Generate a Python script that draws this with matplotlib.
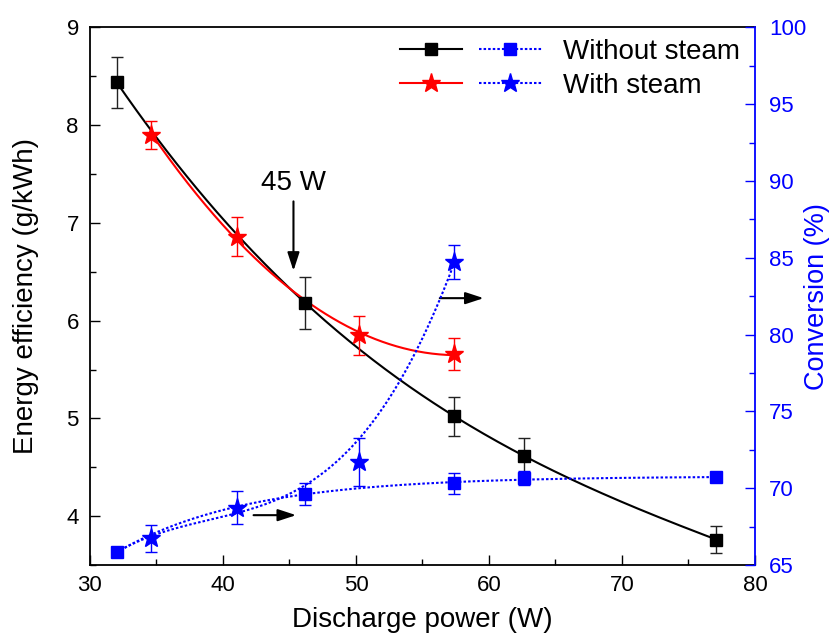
import numpy as np
import matplotlib
matplotlib.use('Agg')
import matplotlib.pyplot as plt
from matplotlib.lines import Line2D
from matplotlib.legend_handler import HandlerTuple
from matplotlib.ticker import MultipleLocator

plt.rcParams['font.family'] = ['Liberation Sans', 'DejaVu Sans']

# ---- data ----
power_no_steam = [32.0, 46.2, 57.4, 62.6, 77.1]
eff_no_steam = [8.44, 6.18, 5.02, 4.62, 3.76]
eff_no_steam_err = [0.26, 0.27, 0.20, 0.18, 0.14]
conv_no_steam = [65.83, 69.62, 70.32, 70.64, 70.71]
conv_no_steam_err = [0.0, 0.70, 0.67, 0.45, 0.0]

power_steam = [34.6, 41.05, 50.2, 57.4]
eff_steam = [7.90, 6.86, 5.85, 5.66]
eff_steam_err = [0.14, 0.20, 0.20, 0.16]
conv_steam = [66.74, 68.73, 71.72, 84.74]
conv_steam_err = [0.87, 1.08, 1.56, 1.10]

legend_labels = ['Without steam', 'With steam']
note_text = '45 W'
note_arrow = [(45.3, 7.22), (45.3, 6.51)]        # (start, end) in left-axis data
right_arrows = [((56.3, 6.23), (59.6, 6.23)),
                ((42.3, 4.01), (45.5, 4.01))]

# ---- fitted trend curves (computed from the data) ----
def fit_exp_sat(x, y):
    x = np.asarray(x, float); y = np.asarray(y, float)
    best = None
    for t in np.linspace(2, 40, 761):
        u = np.exp(-(x - x[0]) / t)
        M = np.column_stack([np.ones_like(u), u])
        coef, *_ = np.linalg.lstsq(M, y, rcond=None)
        r = np.sum((M @ coef - y) ** 2)
        if best is None or r < best[0]:
            best = (r, t, coef)
    _, t, coef = best
    x0 = x[0]
    return lambda xx: coef[0] + coef[1] * np.exp(-(xx - x0) / t)

black_fit = np.poly1d(np.polyfit(power_no_steam, eff_no_steam, 3))
red_fit = np.poly1d(np.polyfit(power_steam, eff_steam, 2))
blue_sq_fit = fit_exp_sat(power_no_steam, conv_no_steam)
st_x = [power_no_steam[0]] + power_steam
st_y = [conv_no_steam[0]] + conv_steam
st_sig = np.array([0.3] + conv_steam_err)
blue_st_fit = np.poly1d(np.polyfit(st_x, st_y, 3, w=1.0 / st_sig ** 3))

xb = np.linspace(power_no_steam[0], power_no_steam[-1], 300)
xr = np.linspace(power_steam[0], power_steam[-1], 300)
xs = np.linspace(power_no_steam[0], power_steam[-1], 300)

# ---- figure ----
fig = plt.figure(figsize=(8.37, 6.34), dpi=100)
ax = fig.add_axes([0.1075, 0.1088, 0.7945, 0.848])
ax2 = ax.twinx()

BLUE = '#0000ff'
RED = '#ff0000'
dot = (0, (1.2, 1.0))

ax.plot(xb, black_fit(xb), color='k', lw=1.5, zorder=2)
ax.plot(xr, red_fit(xr), color=RED, lw=1.5, zorder=2)
ax.errorbar(power_no_steam, eff_no_steam, yerr=eff_no_steam_err, fmt='s', color='k',
            ms=8.5, ecolor='#222222', elinewidth=1, capsize=4, capthick=1, zorder=3)
ax.errorbar(power_steam, eff_steam, yerr=eff_steam_err, fmt='*', color=RED,
            ms=14, ecolor=RED, elinewidth=1, capsize=4, capthick=1, zorder=3)

ax2.plot(xb, blue_sq_fit(xb), color=BLUE, lw=1.5, ls=dot, zorder=2)
ax2.plot(xs, blue_st_fit(xs), color=BLUE, lw=1.5, ls=dot, zorder=2)
ax2.errorbar(power_no_steam, conv_no_steam, yerr=conv_no_steam_err, fmt='s', color=BLUE,
             ms=8.5, ecolor=BLUE, elinewidth=1, capsize=4, capthick=1, zorder=3)
ax2.errorbar(power_steam, conv_steam, yerr=conv_steam_err, fmt='*', color=BLUE,
             ms=14, ecolor=BLUE, elinewidth=1, capsize=4, capthick=1, zorder=3)

# limits & ticks
ax.set_xlim(30, 80)
ax.set_ylim(3.5, 9)
ax2.set_ylim(65, 100)
ax.xaxis.set_major_locator(MultipleLocator(10))
ax.xaxis.set_minor_locator(MultipleLocator(5))
ax.yaxis.set_major_locator(MultipleLocator(1))
ax.yaxis.set_minor_locator(MultipleLocator(0.5))
ax2.yaxis.set_major_locator(MultipleLocator(5))
ax2.yaxis.set_minor_locator(MultipleLocator(2.5))

ax.tick_params(axis='both', which='both', direction='in', top=False, right=False, width=1)
ax.tick_params(axis='both', which='major', length=7, labelsize=16)
ax.tick_params(axis='both', which='minor', length=4)
ax.tick_params(axis='x', which='major', pad=7)
ax.tick_params(axis='y', which='major', pad=8)
ax2.tick_params(axis='y', which='both', direction='in', colors=BLUE, width=1)
ax2.tick_params(axis='y', which='major', length=7, labelsize=16, pad=10)
ax2.tick_params(axis='y', which='minor', length=4)

for s in ['left', 'bottom', 'top']:
    ax.spines[s].set_linewidth(1.3)
    ax.spines[s].set_color('k')
ax.spines['right'].set_visible(False)
for s in ['left', 'bottom', 'top']:
    ax2.spines[s].set_visible(False)
ax2.spines['right'].set_color(BLUE)
ax2.spines['right'].set_linewidth(1.3)

ax.set_xlabel('Discharge power (W)', fontsize=20, labelpad=8)
ax.set_ylabel('Energy efficiency (g/kWh)', fontsize=20)
ax2.set_ylabel('Conversion (%)', fontsize=19.5, color=BLUE, rotation=90)
ax.yaxis.set_label_coords(-0.076, 0.5)
ax2.yaxis.set_label_coords(1.074, 0.5)

# annotations
ax.text(note_arrow[0][0], 7.41, note_text, fontsize=20, ha='center', va='center')
aprops = dict(arrowstyle='-|>,head_length=0.55,head_width=0.18', color='k', lw=1.5,
              mutation_scale=20, shrinkA=0, shrinkB=0)
ax.annotate('', xy=note_arrow[1], xytext=note_arrow[0], arrowprops=aprops, zorder=4)
for start, end in right_arrows:
    ax.annotate('', xy=end, xytext=start, arrowprops=aprops, zorder=4)

# legend (Origin style: two handles per row)
h_k = Line2D([], [], color='k', lw=1.5, marker='s', ms=8.5)
h_bs = Line2D([], [], color=BLUE, lw=1.5, ls=dot, marker='s', ms=8.5)
h_r = Line2D([], [], color=RED, lw=1.5, marker='*', ms=14)
h_bt = Line2D([], [], color=BLUE, lw=1.5, ls=dot, marker='*', ms=14)
ax2.legend(handles=[(h_k, h_bs), (h_r, h_bt)], labels=legend_labels,
           handler_map={tuple: HandlerTuple(ndivide=None, pad=0.61)},
           handlelength=5.1, handletextpad=0.79, labelspacing=0.30,
           fontsize=20, frameon=False, loc='upper left',
           bbox_to_anchor=(0.466, 0.979), borderaxespad=0, borderpad=0, numpoints=1)

fig.savefig('out.png', dpi=100)
